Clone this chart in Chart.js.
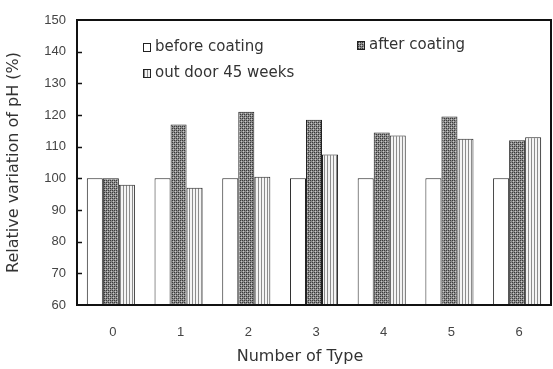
<!DOCTYPE html>
<html><head><meta charset="utf-8">
<script src="https://cdn.jsdelivr.net/npm/chart.js@4/dist/chart.umd.min.js"></script>
<style>html,body{margin:0;padding:0;background:#fff}#wrap{width:553px;height:369px}</style>
</head><body><div id="wrap"><canvas id="c" width="553" height="369"></canvas></div>
<script>
const categories = ['0','1','2','3','4','5','6'];
const beforeCoating = [100,100,100,100,100,100,100];
const afterCoating = [100,117,121,118.5,114.5,119.5,112];
const outdoor45 = [98,97,100.5,107.5,113.5,112.5,113];
const seriesLabels = ['before coating','after coating','out door 45 weeks'];
const yTitle = 'Relative variation of pH (%)';
const xTitle = 'Number of Type';
const TXT = '"DejaVu Sans", Verdana, sans-serif';
const NUM = '"Liberation Sans", Arial, sans-serif';

function makePattern(kind){
  const p=document.createElement('canvas');
  const ctx=p.getContext('2d');
  if(kind==='check'){
    p.width=4;p.height=4;
    ctx.fillStyle='#8a8a8a';ctx.fillRect(0,0,4,4);
    ctx.fillStyle='#3a3a3a';
    ctx.fillRect(0,0,1,1);ctx.fillRect(2,2,1,1);ctx.fillRect(2,0,1,1);ctx.fillRect(0,2,1,1);
    ctx.fillStyle='#c8c8c8';
    ctx.fillRect(1,1,1,1);ctx.fillRect(3,3,1,1);
  } else {
    p.width=3;p.height=3;
    ctx.fillStyle='#f4f4f4';ctx.fillRect(0,0,3,3);
    ctx.fillStyle='#8c8c8c';ctx.fillRect(0,0,1,3);
  }
  return document.getElementById('c').getContext('2d').createPattern(p,'repeat');
}
const fills=['#ffffff',makePattern('check'),makePattern('stripe')];

const frame={id:'frame',afterDraw(ch){
  const {ctx,chartArea:a,scales}=ch;
  ctx.save();
  ctx.strokeStyle='#111';ctx.lineWidth=2;
  ctx.strokeRect(a.left,a.top,a.right-a.left,a.bottom-a.top);
  ctx.lineWidth=1.5;
  for(let v=70;v<150;v+=10){
    const y=Math.round(scales.y.getPixelForValue(v))+0.5;
    ctx.beginPath();ctx.moveTo(a.left,y);ctx.lineTo(a.left+5,y);ctx.stroke();
  }
  // legend
  ctx.font='15px '+TXT;
  ctx.textBaseline='middle';
  const pos=[[143,47],[357,45],[143,73]];
  ch.data.datasets.forEach((d,i)=>{
    const [x,y]=pos[i];
    ctx.fillStyle=d.backgroundColor;ctx.fillRect(x,y-4,8,9);
    ctx.strokeStyle='#222';ctx.lineWidth=1;ctx.strokeRect(x+0.5,y-3.5,7,8);
    ctx.fillStyle='#333';ctx.fillText(d.label,x+12,y);
  });
  // x title
  ctx.font='16px '+TXT;
  ctx.textAlign='center';
  ctx.fillStyle='#333';
  ctx.fillText(xTitle,300,357);
  ctx.restore();
}};

new Chart(document.getElementById('c'),{
  type:'bar',
  data:{labels:categories,datasets:[
    {label:seriesLabels[0],data:beforeCoating,backgroundColor:fills[0],borderColor:'#222',borderWidth:1},
    {label:seriesLabels[1],data:afterCoating,backgroundColor:fills[1],borderColor:'#222',borderWidth:1},
    {label:seriesLabels[2],data:outdoor45,backgroundColor:fills[2],borderColor:'#222',borderWidth:1}
  ]},
  options:{
    responsive:false,animation:false,
    layout:{padding:{top:20,right:2,left:0,bottom:0}},
    datasets:{bar:{categoryPercentage:0.71,barPercentage:1}},
    plugins:{legend:{display:false},tooltip:{enabled:false}},
    scales:{
      x:{grid:{display:false,drawTicks:false},border:{display:false},
        ticks:{color:'#444',font:{family:NUM,size:13},padding:20,labelOffset:2},
        afterFit(s){s.height=64;}},
      y:{min:60,max:150,grid:{display:false,drawTicks:false},border:{display:false},
        ticks:{stepSize:10,color:'#444',font:{family:NUM,size:13},padding:11},
        title:{display:true,text:yTitle,color:'#333',font:{family:TXT,size:16},padding:{top:4,bottom:4}},
        afterFit(s){s.width=77;}}
    }
  },
  plugins:[frame]
});
</script></body></html>
